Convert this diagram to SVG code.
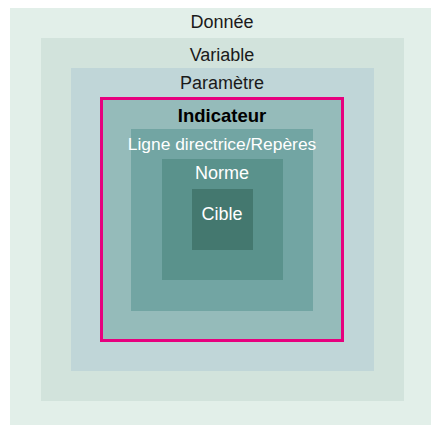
<svg xmlns="http://www.w3.org/2000/svg" width="431" height="425" viewBox="0 0 431 425">
<style>
.t{font-family:"Liberation Sans",Arial,sans-serif;font-size:18px;text-anchor:middle}
.d{fill:#1a1a1a}
.w{fill:#ffffff}
.b{font-weight:bold;fill:#000;font-size:18.5px}
.s{font-size:17.4px}
</style>
<rect width="431" height="425" fill="#ffffff"/>
<g id="donnee">
<rect x="10" y="8" width="421" height="417" fill="#e2efe9"/>
<text class="t d" x="222" y="27.5">Donnée</text>
</g>
<g id="variable">
<rect x="41" y="38" width="363" height="363" fill="#d2e3dc"/>
<text class="t d" x="222" y="61">Variable</text>
</g>
<g id="parametre">
<rect x="71" y="68" width="303" height="303" fill="#c0d6d8"/>
<text class="t d" x="222" y="89">Paramètre</text>
</g>
<g id="indicateur">
<rect x="101.5" y="98.5" width="241" height="242" fill="#95bbba" stroke="#e6007e" stroke-width="3"/>
<text class="t b" x="222" y="122">Indicateur</text>
</g>
<g id="ligne">
<rect x="131" y="129" width="182" height="182" fill="#72a5a3"/>
<text class="t w s" x="222" y="150">Ligne directrice/Repères</text>
</g>
<g id="norme">
<rect x="162" y="159" width="121" height="121" fill="#5a928c"/>
<text class="t w" x="222" y="179">Norme</text>
</g>
<g id="cible">
<rect x="192" y="189" width="61" height="61" fill="#44786f"/>
<text class="t w" x="222" y="220">Cible</text>
</g>
<g id="connectors"/>
</svg>
